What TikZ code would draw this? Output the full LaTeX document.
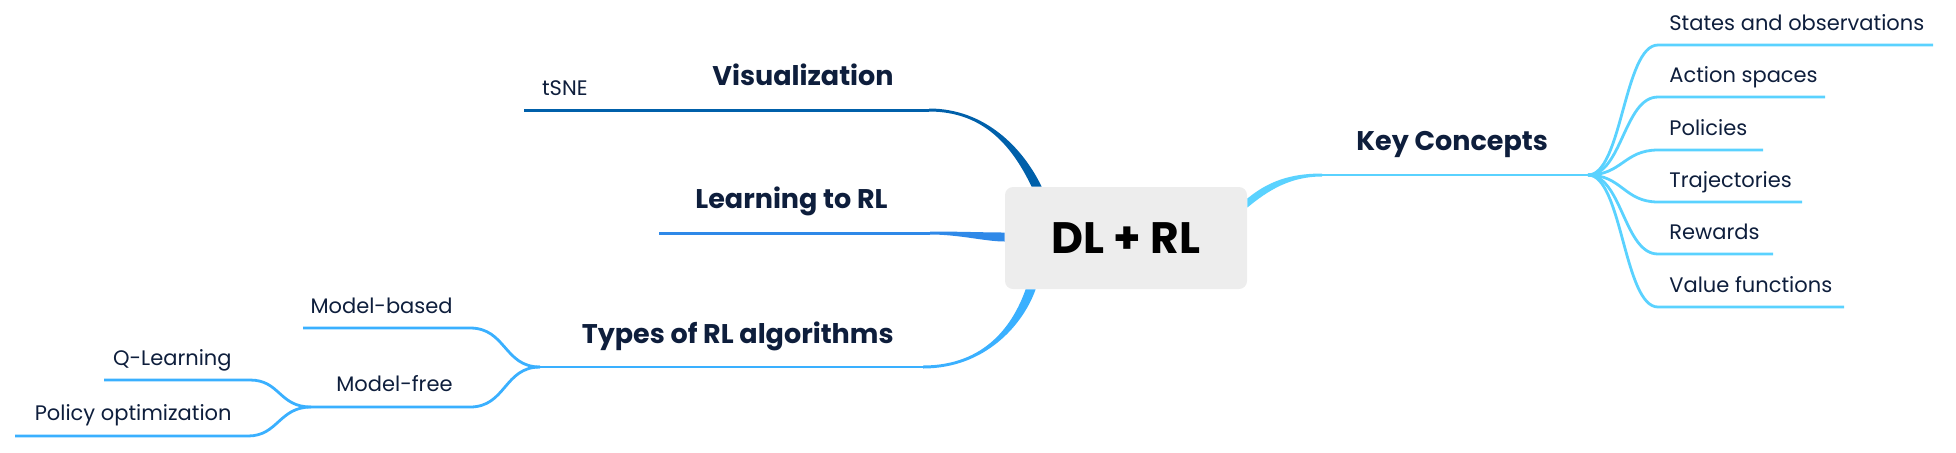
\documentclass[tikz,border=0pt]{standalone}
\usepackage{fontspec}
\setmainfont{Poppins}
\usepackage{xcolor}
\usetikzlibrary{calc}

\definecolor{ink}{HTML}{0E1E3C}
\definecolor{vizblue}{HTML}{0060AA}
\definecolor{lrnblue}{HTML}{2F89E8}
\definecolor{typblue}{HTML}{3AB0FF}
\definecolor{keyblue}{HTML}{5AD2FF}
\definecolor{rootgray}{HTML}{EDEDED}

% tapered branch: colour, thin end, control 1, control 2, thick end, half width thin, half width thick
\newcommand{\taper}[7]{%
  \fill[#1] ($(#2)+#6$) .. controls ($(#3)+#6$) and ($(#4)+#7$) .. ($(#5)+#7$)
    -- ($(#5)-#7$) .. controls ($(#4)-#7$) and ($(#3)-#6$) .. ($(#2)-#6$) -- cycle;}

\begin{document}
\begin{tikzpicture}[
    x=0.5pt, y=-0.5pt,
    root/.style={rectangle, fill=rootgray, rounded corners=4pt, minimum width=121pt, minimum height=51pt, font=\fontsize{22}{25}\selectfont\bfseries, text=black},
    topic/.style={inner sep=0pt, font=\fontsize{13.5}{16}\selectfont\bfseries, text=ink},
    leaf/.style={inner sep=0pt, font=\fontsize{10.5}{13}\selectfont, text=ink},
    vizline/.style={draw=vizblue, line width=1.5pt},
    lrnline/.style={draw=lrnblue, line width=1.5pt},
    typline/.style={draw=typblue, line width=1.4pt},
    keyline/.style={draw=keyblue, line width=1.4pt}
]
    \useasboundingbox (0,0) rectangle (1956,452);

    \node [root] (root) at (1126,238) {DL + RL};
    \coordinate (vizB) at ($(root.north west)+(32,0)$);
    \coordinate (lrnB) at ($(root.west)+(0,-1)$);
    \coordinate (typB) at ($(root.south west)+(26,0)$);
    \coordinate (kcB) at ($(root.east)+(0,-35)$);

    % Visualization
    \coordinate (vizR) at (929,110);
    \coordinate (vizL) at (602,110);
    \coordinate (tsneL) at (524,110);
    \taper{vizblue}{vizR}{985,110}{1018,148}{vizB}{(0,-1.5)}{(5,0)}
    \draw [vizline] (vizR) -- (vizL) -- (tsneL);
    \node [topic, anchor=base east] (viz) at (894,85) {Visualization};
    \node [leaf, anchor=base east] (tsne) at (588,95) {tSNE};

    % Learning to RL
    \coordinate (lrnR) at (930,233);
    \coordinate (lrnL) at (659,233);
    \taper{lrnblue}{lrnR}{960,233}{985,237}{lrnB}{(0,-1.5)}{(0,-4.5)}
    \draw [lrnline] (lrnR) -- (lrnL);
    \node [topic, anchor=base east] (lrn) at (888,208) {Learning to RL};

    % Types of RL algorithms
    \coordinate (typR) at (923,367);
    \coordinate (typL) at (540,367);
    \taper{typblue}{typR}{985,367}{1018,325}{typB}{(0,1.5)}{(5,0)}
    \draw [typline] (typR) -- (typL);
    \node [topic, anchor=base east] (typ) at (894,343) {Types of RL algorithms};

    \coordinate (mbR) at (470,328);
    \coordinate (mbL) at (303,328);
    \coordinate (mfR) at (470,407);
    \coordinate (mfL) at (311,407);
    \draw [typline] (typL) .. controls +(-36,0) and +(36,0) .. (mbR) -- (mbL);
    \draw [typline] (typL) .. controls +(-36,0) and +(36,0) .. (mfR) -- (mfL);
    \node [leaf, anchor=base east] (mb) at (453,313) {Model-based};
    \node [leaf, anchor=base east] (mf) at (453,391) {Model-free};

    \coordinate (qlR) at (250,380);
    \coordinate (qlL) at (104,380);
    \coordinate (poR) at (248,436);
    \coordinate (poL) at (15,436);
    \draw [typline] (mfL) .. controls +(-32,0) and +(30,0) .. (qlR) -- (qlL);
    \draw [typline] (mfL) .. controls +(-32,0) and +(30,0) .. (poR) -- (poL);
    \node [leaf, anchor=base east] (ql) at (232,365) {Q-Learning};
    \node [leaf, anchor=base east] (po) at (232,420) {Policy optimization};

    % Key Concepts
    \coordinate (kcL) at (1322,175);
    \coordinate (kcR) at (1588,175);
    \taper{keyblue}{kcL}{1290,175}{1268,186}{kcB}{(0,-1.5)}{(0,-4.5)}
    \draw [keyline] (kcL) -- (kcR);
    \node [topic, anchor=base west] (kc) at (1356,150) {Key Concepts};

    \foreach \t/\y/\e [count=\i] in {States and observations/45/1933, Action spaces/97/1825, Policies/150/1763, Trajectories/202/1802, Rewards/254/1773, Value functions/307/1844} {
        \coordinate (kcs\i) at (1658,\y);
        \coordinate (kce\i) at (\e,\y);
        \draw [keyline] (kcR) .. controls +(34,0) and +(-34,0) .. (kcs\i) -- (kce\i);
        \node [leaf, anchor=base west] (kc\i) at (1669,\y-15) {\t};
    }
\end{tikzpicture}
\end{document}
